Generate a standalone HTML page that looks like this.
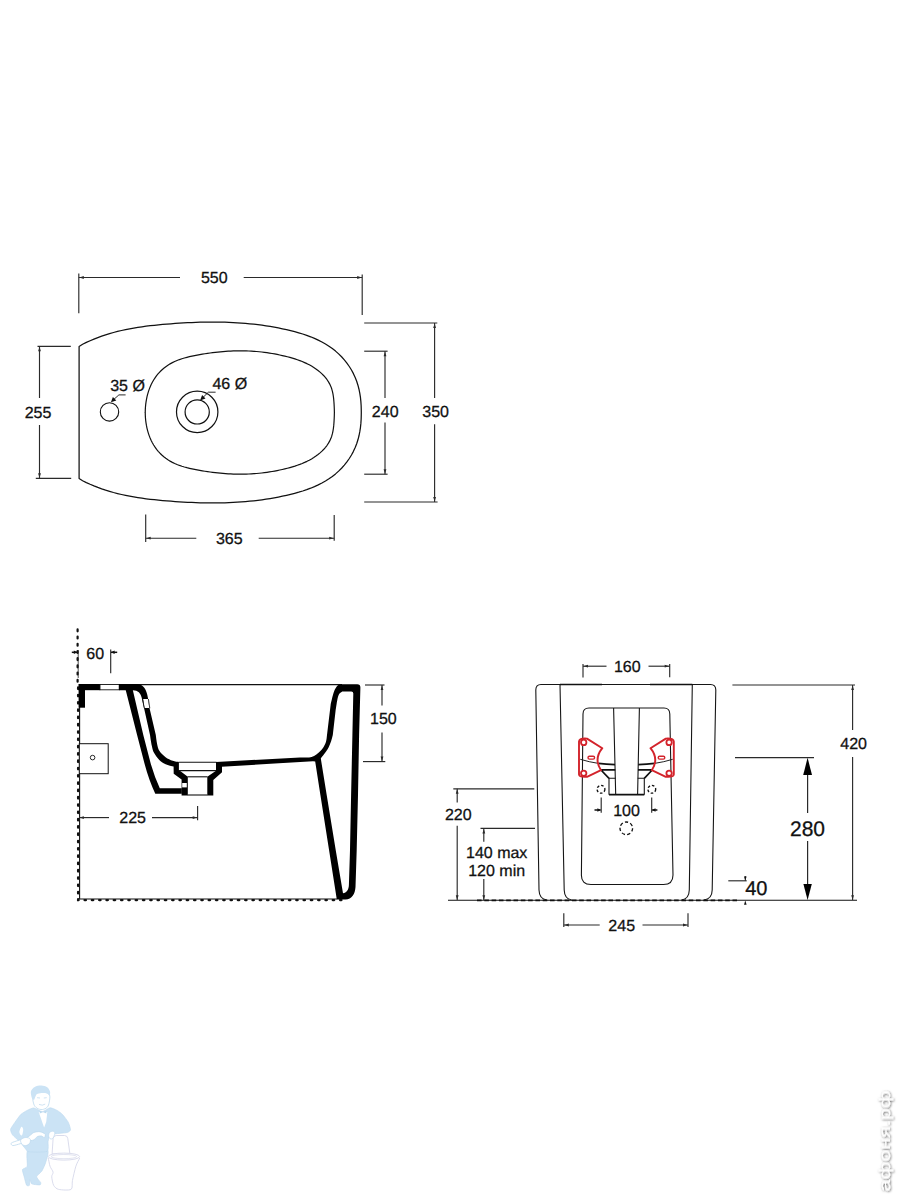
<!DOCTYPE html>
<html lang="ru"><head><meta charset="utf-8"><title>Bidet technical drawing</title>
<style>
html,body{margin:0;padding:0;background:#fff;}
body{width:900px;height:1200px;overflow:hidden;font-family:"Liberation Sans",Arial,Helvetica,sans-serif;}
svg{display:block;}
svg text{font-family:"Liberation Sans",Arial,Helvetica,sans-serif;fill:#111;stroke:#111;stroke-width:0.28px;text-rendering:geometricPrecision;}
</style></head><body>
<svg width="900" height="1200" viewBox="0 0 900 1200">
<defs><filter id="sh" x="-20%" y="-50%" width="140%" height="200%"><feDropShadow dx="-0.7" dy="0.7" stdDeviation="1.2" flood-color="#000" flood-opacity="0.75"/></filter></defs>
<rect width="900" height="1200" fill="#fff"/>
<path d="M79.10 346.50 L82.62 344.29 L86.36 342.43 L90.13 340.70 L93.95 339.07 L97.80 337.56 L101.69 336.14 L105.60 334.83 L109.55 333.62 L113.52 332.49 L117.52 331.46 L121.55 330.50 L125.60 329.62 L129.66 328.82 L133.75 328.08 L137.85 327.41 L141.96 326.79 L146.09 326.23 L150.22 325.72 L154.37 325.26 L158.52 324.84 L162.67 324.45 L166.83 324.09 L170.99 323.77 L175.14 323.46 L179.29 323.19 L183.45 322.93 L187.60 322.71 L191.75 322.52 L195.89 322.36 L200.04 322.23 L204.18 322.14 L208.32 322.08 L212.46 322.06 L216.60 322.07 L220.73 322.13 L224.86 322.23 L228.99 322.37 L233.12 322.56 L237.24 322.79 L241.37 323.07 L245.49 323.40 L249.60 323.77 L253.72 324.20 L257.83 324.69 L261.94 325.22 L266.04 325.82 L270.14 326.47 L274.24 327.18 L278.34 327.95 L282.43 328.78 L286.52 329.68 L290.60 330.64 L294.68 331.68 L298.72 332.80 L302.74 334.02 L306.70 335.34 L310.62 336.79 L314.46 338.36 L318.23 340.08 L321.91 341.94 L325.49 343.97 L328.97 346.16 L332.32 348.54 L335.55 351.11 L338.63 353.87 L341.56 356.79 L344.32 359.88 L346.90 363.12 L349.29 366.50 L351.48 370.02 L353.44 373.66 L355.18 377.41 L356.68 381.26 L357.94 385.20 L358.98 389.22 L359.81 393.30 L360.44 397.43 L360.88 401.60 L361.15 405.79 L361.26 409.98 L361.30 412.50 L361.26 415.02 L361.15 419.21 L360.88 423.40 L360.44 427.57 L359.81 431.70 L358.98 435.78 L357.94 439.80 L356.68 443.74 L355.18 447.59 L353.44 451.34 L351.48 454.98 L349.29 458.50 L346.90 461.88 L344.32 465.12 L341.56 468.21 L338.63 471.13 L335.55 473.89 L332.32 476.46 L328.97 478.84 L325.49 481.03 L321.91 483.06 L318.23 484.92 L314.46 486.64 L310.62 488.21 L306.70 489.66 L302.74 490.98 L298.72 492.20 L294.68 493.32 L290.60 494.36 L286.52 495.32 L282.43 496.22 L278.34 497.05 L274.24 497.82 L270.14 498.53 L266.04 499.18 L261.94 499.78 L257.83 500.31 L253.72 500.80 L249.60 501.23 L245.49 501.60 L241.37 501.93 L237.24 502.21 L233.12 502.44 L228.99 502.63 L224.86 502.77 L220.73 502.87 L216.60 502.93 L212.46 502.94 L208.32 502.92 L204.18 502.86 L200.04 502.77 L195.89 502.64 L191.75 502.48 L187.60 502.29 L183.45 502.07 L179.29 501.81 L175.14 501.54 L170.99 501.23 L166.83 500.91 L162.67 500.55 L158.52 500.16 L154.37 499.74 L150.22 499.28 L146.09 498.77 L141.96 498.21 L137.85 497.59 L133.75 496.92 L129.66 496.18 L125.60 495.38 L121.55 494.50 L117.52 493.54 L113.52 492.51 L109.55 491.38 L105.60 490.17 L101.69 488.86 L97.80 487.44 L93.95 485.93 L90.13 484.30 L86.36 482.57 L82.62 480.71 L79.10 478.50 Z" fill="none" stroke="#111" stroke-width="1.25" stroke-linejoin="round"/>
<path d="M145.00 412.50 L145.25 412.44 L145.30 409.87 L145.44 407.29 L145.68 404.70 L146.01 402.11 L146.44 399.53 L146.97 396.96 L147.60 394.41 L148.33 391.89 L149.17 389.40 L150.12 386.96 L151.18 384.58 L152.35 382.25 L153.64 379.99 L155.05 377.81 L156.58 375.72 L158.22 373.71 L159.97 371.80 L161.82 369.99 L163.77 368.29 L165.81 366.69 L167.92 365.21 L170.11 363.85 L172.36 362.62 L174.67 361.49 L177.04 360.48 L179.45 359.56 L181.90 358.73 L184.39 357.98 L186.91 357.30 L189.45 356.68 L192.02 356.11 L194.59 355.59 L197.17 355.09 L199.76 354.63 L202.34 354.18 L204.92 353.76 L207.50 353.37 L210.09 353.00 L212.67 352.66 L215.25 352.34 L217.83 352.05 L220.41 351.79 L223.00 351.56 L225.58 351.35 L228.16 351.18 L230.74 351.04 L233.33 350.93 L235.91 350.85 L238.49 350.81 L241.08 350.80 L243.66 350.83 L246.25 350.89 L248.83 350.98 L251.42 351.12 L254.01 351.29 L256.59 351.50 L259.18 351.74 L261.76 352.02 L264.34 352.33 L266.92 352.68 L269.49 353.07 L272.06 353.50 L274.62 353.95 L277.18 354.45 L279.74 354.98 L282.29 355.54 L284.83 356.14 L287.36 356.78 L289.88 357.45 L292.39 358.17 L294.89 358.93 L297.36 359.75 L299.81 360.62 L302.23 361.56 L304.62 362.58 L306.97 363.66 L309.28 364.84 L311.55 366.10 L313.77 367.45 L315.93 368.90 L318.03 370.46 L320.05 372.11 L321.98 373.87 L323.81 375.72 L325.51 377.67 L327.08 379.71 L328.49 381.85 L329.75 384.08 L330.82 386.41 L331.71 388.82 L332.41 391.32 L332.96 393.88 L333.38 396.48 L333.69 399.11 L333.92 401.75 L334.09 404.39 L334.22 407.00 L334.32 409.59 L334.37 412.17 L334.40 412.50 L334.37 412.83 L334.32 415.41 L334.22 418.00 L334.09 420.61 L333.92 423.25 L333.69 425.89 L333.38 428.52 L332.96 431.12 L332.41 433.68 L331.71 436.18 L330.82 438.59 L329.75 440.92 L328.49 443.15 L327.08 445.29 L325.51 447.33 L323.81 449.28 L321.98 451.13 L320.05 452.89 L318.03 454.54 L315.93 456.10 L313.77 457.55 L311.55 458.90 L309.28 460.16 L306.97 461.34 L304.62 462.42 L302.23 463.44 L299.81 464.38 L297.36 465.25 L294.89 466.07 L292.39 466.83 L289.88 467.55 L287.36 468.22 L284.83 468.86 L282.29 469.46 L279.74 470.02 L277.18 470.55 L274.62 471.05 L272.06 471.50 L269.49 471.93 L266.92 472.32 L264.34 472.67 L261.76 472.98 L259.18 473.26 L256.59 473.50 L254.01 473.71 L251.42 473.88 L248.83 474.02 L246.25 474.11 L243.66 474.17 L241.08 474.20 L238.49 474.19 L235.91 474.15 L233.33 474.07 L230.74 473.96 L228.16 473.82 L225.58 473.65 L223.00 473.44 L220.41 473.21 L217.83 472.95 L215.25 472.66 L212.67 472.34 L210.09 472.00 L207.50 471.63 L204.92 471.24 L202.34 470.82 L199.76 470.37 L197.17 469.91 L194.59 469.41 L192.02 468.89 L189.45 468.32 L186.91 467.70 L184.39 467.02 L181.90 466.27 L179.45 465.44 L177.04 464.52 L174.67 463.51 L172.36 462.38 L170.11 461.15 L167.92 459.79 L165.81 458.31 L163.77 456.71 L161.82 455.01 L159.97 453.20 L158.22 451.29 L156.58 449.28 L155.05 447.19 L153.64 445.01 L152.35 442.75 L151.18 440.42 L150.12 438.04 L149.17 435.60 L148.33 433.11 L147.60 430.59 L146.97 428.04 L146.44 425.47 L146.01 422.89 L145.68 420.30 L145.44 417.71 L145.30 415.13 L145.25 412.56 Z" fill="none" stroke="#111" stroke-width="1.2" stroke-linejoin="round"/>
<circle cx="109.5" cy="411.9" r="9.2" fill="none" stroke="#111" stroke-width="1.1"/>
<circle cx="197.2" cy="411.9" r="20.7" fill="none" stroke="#111" stroke-width="1.2"/>
<circle cx="197.2" cy="411.9" r="12.1" fill="none" stroke="#111" stroke-width="1.2"/>
<polyline points="125.6,394.9 118.9,394.9 112.5,400.6" fill="none" stroke="#2a2a2a" stroke-width="1"/>
<polygon points="110.9,402.2 112.9,396.9 116.3,400.4" fill="#111"/>
<polyline points="215.6,392.2 208.4,392.2 201.8,398.6" fill="none" stroke="#2a2a2a" stroke-width="1"/>
<polygon points="200.1,400.4 202.1,395.1 205.5,398.6" fill="#111"/>
<text x="110.20" y="391.20" font-size="16" text-anchor="start" >35 Ø</text>
<text x="212.40" y="388.60" font-size="16" text-anchor="start" >46 Ø</text>
<line x1="78.80" y1="273.50" x2="78.80" y2="313.30" stroke="#2a2a2a" stroke-width="1.15" />
<line x1="362.20" y1="274.50" x2="362.20" y2="315.00" stroke="#2a2a2a" stroke-width="1.15" />
<line x1="78.80" y1="277.50" x2="180.00" y2="277.50" stroke="#2a2a2a" stroke-width="1.15" />
<polygon points="79.30,277.50 83.80,276.10 83.80,278.90" fill="#2a2a2a"/>
<line x1="243.70" y1="277.50" x2="362.20" y2="277.50" stroke="#2a2a2a" stroke-width="1.15" />
<polygon points="361.70,277.50 357.20,276.10 357.20,278.90" fill="#2a2a2a"/>
<text x="214.30" y="283.20" font-size="16" text-anchor="middle" >550</text>
<line x1="364.20" y1="323.00" x2="437.30" y2="323.00" stroke="#2a2a2a" stroke-width="1.15" />
<line x1="364.20" y1="502.00" x2="437.60" y2="502.00" stroke="#2a2a2a" stroke-width="1.15" />
<line x1="434.60" y1="323.00" x2="434.60" y2="398.00" stroke="#2a2a2a" stroke-width="1.15" />
<line x1="434.60" y1="424.30" x2="434.60" y2="502.00" stroke="#2a2a2a" stroke-width="1.15" />
<polygon points="434.60,323.50 433.20,328.00 436.00,328.00" fill="#2a2a2a"/>
<polygon points="434.60,501.50 433.20,497.00 436.00,497.00" fill="#2a2a2a"/>
<text x="435.60" y="417.20" font-size="16" text-anchor="middle" >350</text>
<line x1="364.20" y1="351.20" x2="387.60" y2="351.20" stroke="#2a2a2a" stroke-width="1.15" />
<line x1="364.20" y1="474.20" x2="387.60" y2="474.20" stroke="#2a2a2a" stroke-width="1.15" />
<line x1="385.00" y1="351.20" x2="385.00" y2="398.00" stroke="#2a2a2a" stroke-width="1.15" />
<line x1="385.00" y1="422.50" x2="385.00" y2="474.20" stroke="#2a2a2a" stroke-width="1.15" />
<polygon points="385.00,351.70 383.60,356.20 386.40,356.20" fill="#2a2a2a"/>
<polygon points="385.00,473.70 383.60,469.20 386.40,469.20" fill="#2a2a2a"/>
<text x="385.20" y="417.20" font-size="16" text-anchor="middle" >240</text>
<line x1="37.50" y1="346.30" x2="70.80" y2="346.30" stroke="#2a2a2a" stroke-width="1.15" />
<line x1="35.80" y1="478.30" x2="71.20" y2="478.30" stroke="#2a2a2a" stroke-width="1.15" />
<line x1="39.50" y1="346.30" x2="39.50" y2="398.00" stroke="#2a2a2a" stroke-width="1.15" />
<line x1="39.50" y1="425.00" x2="39.50" y2="478.30" stroke="#2a2a2a" stroke-width="1.15" />
<polygon points="39.50,346.80 38.10,351.30 40.90,351.30" fill="#2a2a2a"/>
<polygon points="39.50,477.80 38.10,473.30 40.90,473.30" fill="#2a2a2a"/>
<text x="38.00" y="417.60" font-size="16" text-anchor="middle" >255</text>
<line x1="145.70" y1="514.50" x2="145.70" y2="542.00" stroke="#2a2a2a" stroke-width="1.15" />
<line x1="334.20" y1="515.00" x2="334.20" y2="540.80" stroke="#2a2a2a" stroke-width="1.15" />
<line x1="145.70" y1="538.20" x2="196.30" y2="538.20" stroke="#2a2a2a" stroke-width="1.15" />
<polygon points="146.20,538.20 150.70,536.80 150.70,539.60" fill="#2a2a2a"/>
<line x1="258.70" y1="538.20" x2="334.20" y2="538.20" stroke="#2a2a2a" stroke-width="1.15" />
<polygon points="333.70,538.20 329.20,536.80 329.20,539.60" fill="#2a2a2a"/>
<text x="229.30" y="543.70" font-size="16" text-anchor="middle" >365</text>
<path d="M77.6 629.4 V684" fill="none" stroke="#111" stroke-width="2.2" stroke-dasharray="1.9 5.3" stroke-linecap="round"/>
<line x1="78.20" y1="650.00" x2="78.20" y2="678.00" stroke="#222" stroke-width="0.8" />
<path d="M79.6 684 V899 H337" fill="none" stroke="#111" stroke-width="1.1"/>
<path d="M78.1 687.5 V900.1 H346" fill="none" stroke="#111" stroke-width="2.3" stroke-dasharray="1.5 5.8" stroke-linecap="round"/>
<line x1="136.00" y1="684.70" x2="342.00" y2="684.70" stroke="#111" stroke-width="1.2" />
<rect x="78.5" y="684" width="21.7" height="6.2" fill="#000"/>
<rect x="100" y="684.5" width="19.2" height="5.3" fill="#fff" stroke="#111" stroke-width="0.9"/>
<rect x="78.6" y="689" width="6.4" height="18.7" fill="#000"/>
<path d="M125.7 690 L137.1 735 L144.7 764.3 Q149 780.5 155.3 793.7 L181.8 793.7 L181.8 788.3 L159.8 788.3 Q154.6 777 150.9 764.3 L143.3 735 L132.8 690 Z" fill="#000"/>
<path d="M119 684 L137.2 684 C143.2 684 146.7 689.5 147.9 697.8 L149.2 706.7 L155.8 735 C156.02 736.48 156.48 741.23 157.10 743.90 C157.72 746.57 158.08 748.78 159.50 751.00 C160.92 753.22 163.40 755.57 165.60 757.20 C167.80 758.83 170.48 759.98 172.70 760.80 C174.92 761.62 177.87 761.88 178.90 762.10 L178.90 770.10 L187.80 776.80 L187.80 795.40 L181.60 795.40 L181.60 779.40 L173.70 773.70 L173.60 766.60 C172.27 766.22 167.98 765.42 165.60 764.30 C163.22 763.18 161.23 761.82 159.30 759.90 C157.37 757.98 155.25 755.17 154.00 752.80 C152.75 750.43 152.47 748.67 151.80 745.70 C151.13 742.73 150.30 736.78 150.00 735.00 L144.30 709.30 L141.70 697.80 C140.8 693 138 690.4 132.8 690.2 L119 690.2 Z" fill="#000"/>
<polygon points="143.1,699.1 148.1,699.1 149.4,708 144.5,708" fill="#fff"/>
<path d="M142.5 699 L144.3 708.2 M148.4 699 L149.8 708.2" stroke="#111" stroke-width="0.8" fill="none"/>
<rect x="182.2" y="783" width="4.6" height="4.4" fill="#fff"/>
<path d="M216 762 L216 770.7 L207.3 776.7 L207.3 795.4 L213.3 795.4 L213.3 780 L222 772.3 L222 764 Z" fill="#000"/>
<line x1="178.70" y1="762.20" x2="216.50" y2="762.20" stroke="#111" stroke-width="1.1" />
<line x1="178.70" y1="770.60" x2="216.00" y2="770.60" stroke="#111" stroke-width="1.1" />
<line x1="187.50" y1="776.80" x2="207.50" y2="776.80" stroke="#111" stroke-width="1.1" />
<line x1="187.50" y1="795.00" x2="207.50" y2="795.00" stroke="#111" stroke-width="1.1" />
<path d="M216 762 L300 757.4 C301.93 757.33 308.20 758.07 311.60 757.00 C315.00 755.93 318.07 753.33 320.40 751.00 C322.73 748.67 324.50 745.67 325.60 743.00 C326.70 740.33 326.77 736.33 327.00 735.00 L330.70 704.30 C331.13 702.53 332.48 696.37 333.30 693.70 C334.12 691.03 334.75 689.75 335.60 688.30 C336.45 686.85 337.33 685.67 338.40 685.00 C339.47 684.33 341.40 684.42 342.00 684.30 L357.2 684.3 Q360.4 684.3 360.4 687.5 L359.10 735.00 L358.00 795.00 L356.70 850.00 L355.50 887.00 C355 894 352 899.4 345.5 899.4 L336.8 899.4 L329.05 850.00 L320.40 795.00 L315.20 761.60 L313.00 761.20 L221.50 766.70 L216.00 766.70 Z M320.8 758.5 L321.3 757.7 C322.35 756.28 325.97 751.95 327.60 749.20 C329.23 746.45 330.23 743.57 331.10 741.20 C331.97 738.83 332.52 736.03 332.80 735.00 L335.60 710.60 C335.88 708.82 336.72 702.67 337.30 699.90 C337.88 697.13 338.28 695.42 339.10 694.00 C339.92 692.58 341.68 691.83 342.20 691.40 L351.3 691.4 Q353.3 691.4 353.3 693.4 L352.40 735.00 L351.10 795.00 L350.00 850.00 L348.90 885.00 C348.7 890 346.5 892.8 343 893.2 L335.70 850.00 L326.70 795.00 Z" fill="#000" fill-rule="evenodd"/>
<rect x="79.3" y="743.7" width="28.9" height="30" fill="#fff" stroke="#111" stroke-width="1"/>
<circle cx="92.6" cy="757.6" r="2.3" fill="none" stroke="#111" stroke-width="0.9"/>
<line x1="71.80" y1="652.30" x2="77.00" y2="652.30" stroke="#111" stroke-width="1.5" />
<polygon points="77.40,652.30 73.80,650.60 73.80,654.00" fill="#111"/>
<line x1="110.70" y1="649.60" x2="110.70" y2="673.30" stroke="#2a2a2a" stroke-width="1.15" />
<line x1="111.00" y1="652.30" x2="117.20" y2="652.30" stroke="#111" stroke-width="1.5" />
<polygon points="111.00,652.30 114.60,650.60 114.60,654.00" fill="#111"/>
<text x="95.20" y="659.20" font-size="16" text-anchor="middle" >60</text>
<line x1="79.00" y1="817.60" x2="109.00" y2="817.60" stroke="#2a2a2a" stroke-width="1.15" />
<polygon points="79.40,817.60 83.90,816.20 83.90,819.00" fill="#2a2a2a"/>
<line x1="152.00" y1="817.60" x2="197.60" y2="817.60" stroke="#2a2a2a" stroke-width="1.15" />
<polygon points="197.20,817.60 192.70,816.20 192.70,819.00" fill="#2a2a2a"/>
<line x1="197.60" y1="806.00" x2="197.60" y2="820.30" stroke="#2a2a2a" stroke-width="1.15" />
<text x="132.60" y="823.20" font-size="16" text-anchor="middle" >225</text>
<line x1="365.00" y1="685.00" x2="384.50" y2="685.00" stroke="#2a2a2a" stroke-width="1.15" />
<line x1="363.00" y1="761.60" x2="385.30" y2="761.60" stroke="#2a2a2a" stroke-width="1.15" />
<line x1="382.00" y1="685.00" x2="382.00" y2="705.50" stroke="#2a2a2a" stroke-width="1.15" />
<line x1="382.00" y1="732.50" x2="382.00" y2="761.60" stroke="#2a2a2a" stroke-width="1.15" />
<polygon points="382.00,685.50 380.60,690.00 383.40,690.00" fill="#2a2a2a"/>
<polygon points="382.00,761.10 380.60,756.60 383.40,756.60" fill="#2a2a2a"/>
<text x="383.40" y="724.40" font-size="16" text-anchor="middle" >150</text>
<path d="M546.7 900 Q539.3 899 539 890 L535.8 690 Q535.8 684.5 541 684.5 L710.5 684.5 Q715.8 684.5 715.8 690 L712.2 890 Q712 899 704 900" fill="none" stroke="#161616" stroke-width="1.1"/>
<path d="M571.7 900 Q564.5 899 564.2 890 L560 684.5" fill="none" stroke="#161616" stroke-width="1.1"/>
<path d="M681.7 900 Q689 899 689.3 890 L692.3 684.5" fill="none" stroke="#161616" stroke-width="1.1"/>
<line x1="560.00" y1="684.50" x2="602.00" y2="684.50" stroke="#111" stroke-width="1.6" />
<line x1="650.00" y1="684.50" x2="692.30" y2="684.50" stroke="#111" stroke-width="1.6" />
<path d="M583 714 Q583 708 589 708 L664 708 Q669.7 708 669.8 714 L673 875 Q673 884.5 663.5 884.5 L591 884.5 Q581.3 884.5 581.4 875 Z" fill="none" stroke="#161616" stroke-width="1.1"/>
<path d="M613.6 708 L615.7 794.7 M639.4 708 L637.6 794.7" fill="none" stroke="#161616" stroke-width="1.1"/>
<line x1="609.00" y1="794.70" x2="644.30" y2="794.70" stroke="#111" stroke-width="1.8" />
<path d="M615.6 778.3 H609 V794.7 M637.7 778.3 H644.3 V794.7" fill="none" stroke="#161616" stroke-width="1.1"/>
<path d="M580.3 759.3 Q589 762 598.5 763.4" fill="none" stroke="#222" stroke-width="1"/>
<path d="M598.5 763.4 Q606 764.4 615 764.6 M601 769.8 H615.3 M601 770 L609 778.3" fill="none" stroke="#111" stroke-width="1.7"/>
<path d="M672.7 759.3 Q664 762 654.5 763.4" fill="none" stroke="#222" stroke-width="1"/>
<path d="M654.5 763.4 Q647 764.4 638.2 764.6 M652.2 769.8 H638 M652.2 770 L644.3 778.3" fill="none" stroke="#111" stroke-width="1.7"/>
<circle cx="601" cy="789.3" r="3.9" fill="none" stroke="#111" stroke-width="1.35" stroke-dasharray="2.6 1.9"/>
<circle cx="651.8" cy="789.3" r="3.9" fill="none" stroke="#111" stroke-width="1.35" stroke-dasharray="2.6 1.9"/>
<circle cx="626.3" cy="828.3" r="6.3" fill="none" stroke="#111" stroke-width="1.35" stroke-dasharray="3.3 2.2"/>
<path d="M579.0 741.5 Q579.3 738 587.0 738.6 L602.3 748.2 Q593.5 759 601.0 770.2 L587.0 776.8 Q579.3 777.4 579.0 774.5 Z" fill="none" stroke="#d3232b" stroke-width="1.9" stroke-linejoin="round"/>
<circle cx="583.7" cy="742.4" r="2.7" fill="#fff" stroke="#d3232b" stroke-width="1.8"/>
<circle cx="583.7" cy="773.3" r="2.7" fill="#fff" stroke="#d3232b" stroke-width="1.8"/>
<rect x="588.0" y="756.2" width="6.6" height="2.9" rx="1.45" fill="#fff" stroke="#d3232b" stroke-width="1.4"/>
<path d="M673.8 741.5 Q673.5 738 665.8 738.6 L650.5 748.2 Q659.3 759 651.8 770.2 L665.8 776.8 Q673.5 777.4 673.8 774.5 Z" fill="none" stroke="#d3232b" stroke-width="1.9" stroke-linejoin="round"/>
<circle cx="669.1" cy="742.4" r="2.7" fill="#fff" stroke="#d3232b" stroke-width="1.8"/>
<circle cx="669.1" cy="773.3" r="2.7" fill="#fff" stroke="#d3232b" stroke-width="1.8"/>
<rect x="658.2" y="756.2" width="6.6" height="2.9" rx="1.45" fill="#fff" stroke="#d3232b" stroke-width="1.4"/>
<line x1="448.00" y1="900.30" x2="857.00" y2="900.30" stroke="#111" stroke-width="1.1" />
<path d="M477 900.4 H737" fill="none" stroke="#111" stroke-width="1.6" stroke-dasharray="4.6 2.7"/>
<line x1="583.00" y1="664.00" x2="583.00" y2="677.50" stroke="#2a2a2a" stroke-width="1.15" />
<line x1="669.70" y1="664.00" x2="669.70" y2="677.30" stroke="#2a2a2a" stroke-width="1.15" />
<line x1="583.00" y1="666.20" x2="606.50" y2="666.20" stroke="#2a2a2a" stroke-width="1.15" />
<polygon points="583.50,666.20 588.00,664.80 588.00,667.60" fill="#2a2a2a"/>
<line x1="648.50" y1="666.20" x2="669.70" y2="666.20" stroke="#2a2a2a" stroke-width="1.15" />
<polygon points="669.20,666.20 664.70,664.80 664.70,667.60" fill="#2a2a2a"/>
<text x="627.30" y="671.80" font-size="16" text-anchor="middle" >160</text>
<line x1="601.20" y1="797.50" x2="601.20" y2="812.80" stroke="#2a2a2a" stroke-width="1.15" />
<line x1="651.70" y1="797.50" x2="651.70" y2="812.80" stroke="#2a2a2a" stroke-width="1.15" />
<line x1="594.50" y1="810.00" x2="600.60" y2="810.00" stroke="#111" stroke-width="1.5" />
<polygon points="601.00,810.00 597.40,808.30 597.40,811.70" fill="#111"/>
<line x1="652.20" y1="810.00" x2="657.40" y2="810.00" stroke="#111" stroke-width="1.5" />
<polygon points="651.90,810.00 655.50,808.30 655.50,811.70" fill="#111"/>
<text x="626.50" y="815.90" font-size="16" text-anchor="middle" >100</text>
<line x1="563.80" y1="913.30" x2="563.80" y2="927.00" stroke="#2a2a2a" stroke-width="1.15" />
<line x1="688.00" y1="913.30" x2="688.00" y2="927.00" stroke="#2a2a2a" stroke-width="1.15" />
<line x1="563.80" y1="925.00" x2="599.70" y2="925.00" stroke="#2a2a2a" stroke-width="1.15" />
<polygon points="564.30,925.00 568.80,923.60 568.80,926.40" fill="#2a2a2a"/>
<line x1="642.50" y1="925.00" x2="688.00" y2="925.00" stroke="#2a2a2a" stroke-width="1.15" />
<polygon points="687.50,925.00 683.00,923.60 683.00,926.40" fill="#2a2a2a"/>
<text x="621.70" y="930.50" font-size="16" text-anchor="middle" >245</text>
<line x1="453.30" y1="788.80" x2="534.30" y2="788.80" stroke="#2a2a2a" stroke-width="1.15" />
<line x1="457.20" y1="788.80" x2="457.20" y2="802.50" stroke="#2a2a2a" stroke-width="1.15" />
<line x1="457.20" y1="825.80" x2="457.20" y2="900.00" stroke="#2a2a2a" stroke-width="1.15" />
<polygon points="457.20,789.30 455.80,793.80 458.60,793.80" fill="#2a2a2a"/>
<polygon points="457.20,899.70 455.80,895.20 458.60,895.20" fill="#2a2a2a"/>
<text x="458.30" y="819.60" font-size="16" text-anchor="middle" >220</text>
<line x1="480.50" y1="828.40" x2="535.00" y2="828.40" stroke="#2a2a2a" stroke-width="1.15" />
<line x1="483.80" y1="828.40" x2="483.80" y2="841.70" stroke="#2a2a2a" stroke-width="1.15" />
<line x1="483.80" y1="879.00" x2="483.80" y2="900.00" stroke="#2a2a2a" stroke-width="1.15" />
<polygon points="483.80,828.90 482.40,833.40 485.20,833.40" fill="#2a2a2a"/>
<polygon points="483.80,899.70 482.40,895.20 485.20,895.20" fill="#2a2a2a"/>
<text x="466.00" y="857.60" font-size="16" text-anchor="start" >140 max</text>
<text x="468.20" y="876.30" font-size="16" text-anchor="start" >120 min</text>
<line x1="732.40" y1="685.00" x2="855.00" y2="685.00" stroke="#2a2a2a" stroke-width="1.15" />
<line x1="852.60" y1="685.00" x2="852.60" y2="730.00" stroke="#2a2a2a" stroke-width="1.15" />
<line x1="852.60" y1="757.00" x2="852.60" y2="900.00" stroke="#2a2a2a" stroke-width="1.15" />
<polygon points="852.60,685.50 851.20,690.00 854.00,690.00" fill="#2a2a2a"/>
<polygon points="852.60,899.70 851.20,895.20 854.00,895.20" fill="#2a2a2a"/>
<text x="853.60" y="749.20" font-size="16" text-anchor="middle" >420</text>
<line x1="735.00" y1="757.60" x2="814.00" y2="757.60" stroke="#2a2a2a" stroke-width="1.15" />
<line x1="807.60" y1="770.00" x2="807.60" y2="813.00" stroke="#2a2a2a" stroke-width="1.2" />
<line x1="807.60" y1="841.00" x2="807.60" y2="888.00" stroke="#2a2a2a" stroke-width="1.2" />
<polygon points="807.6,757.8 803.2,775 812,775" fill="#000"/>
<polygon points="807.6,900 803.4,884 811.8,884" fill="#000"/>
<text x="807.50" y="835.90" font-size="21" text-anchor="middle" >280</text>
<line x1="728.30" y1="880.80" x2="746.70" y2="880.80" stroke="#2a2a2a" stroke-width="1.15" />
<line x1="745.30" y1="876.00" x2="745.30" y2="880.80" stroke="#2a2a2a" stroke-width="1" />
<polygon points="745.3,880.6 744,876.6 746.6,876.6" fill="#111"/>
<polygon points="745.3,900.6 744,904.8 746.6,904.8" fill="#111"/>
<text x="745.20" y="895.40" font-size="20" text-anchor="start" >40</text>
<g>
<path d="M52.1 1153.9 L53.1 1138.6 Q53.3 1135.7 56.2 1135.5 L64.6 1135.5 Q67.5 1135.7 67.8 1138.6 L69.9 1153.9 Z" fill="#fff" stroke="#d6d8ea" stroke-width="0.9"/>
<path d="M48.30 1158.07 C48.52 1159.15 49.38 1164.33 50.02 1166.21 C50.66 1168.08 52.85 1170.74 53.08 1172.15 C53.31 1173.55 51.67 1174.98 51.74 1176.74 C51.82 1178.51 52.74 1183.68 53.66 1185.36 C54.58 1187.05 56.32 1188.85 58.64 1189.39 C60.96 1189.92 69.25 1190.56 71.09 1189.39 C72.93 1188.21 71.79 1183.67 72.43 1180.57 C73.07 1177.48 74.91 1169.21 75.88 1166.21 C76.85 1163.21 79.20 1159.15 79.71 1158.07" fill="#fff" stroke="#d6d8ea" stroke-width="0.9"/>
<ellipse cx="63.9" cy="1156.6" rx="15.7" ry="3.5" fill="#fff" stroke="#d6d8ea" stroke-width="0.9"/>
<ellipse cx="63.9" cy="1156.6" rx="12.8" ry="2.1" fill="none" stroke="#d6d8ea" stroke-width="0.7"/>
<path d="M27.80 1150.40 C29.84 1148.82 45.83 1149.20 47.62 1150.40 C49.42 1151.60 46.28 1160.32 45.71 1162.38 C45.13 1164.43 42.79 1169.56 41.88 1171.00 C40.97 1172.43 36.73 1175.59 36.61 1176.74 C36.48 1177.89 40.30 1181.68 40.63 1182.49 C40.97 1183.30 40.84 1184.74 39.96 1184.89 C39.08 1185.03 32.81 1184.45 31.82 1183.93 C30.83 1183.40 30.34 1179.47 30.10 1179.62 C29.86 1179.76 29.78 1184.81 29.43 1185.36 C29.07 1185.92 27.08 1186.03 26.55 1185.17 C26.02 1184.31 24.57 1178.30 24.16 1176.74 C23.75 1175.18 22.13 1170.61 22.43 1169.56 C22.74 1168.51 26.69 1168.12 27.22 1166.21 C27.76 1164.29 25.76 1151.98 27.80 1150.40Z" fill="#cbe3f5" stroke="#bcd9ee" stroke-width="0.6"/>
<path d="M33.74 1107.97 C32.20 1107.85 28.32 1109.81 27.03 1110.46 C25.74 1111.11 22.00 1113.31 20.80 1114.48 C19.61 1115.65 16.08 1120.66 15.06 1122.15 C14.03 1123.63 10.80 1128.04 10.56 1129.33 C10.32 1130.62 11.78 1133.88 12.66 1135.08 C13.54 1136.27 18.07 1139.91 19.37 1141.30 C20.66 1142.69 24.64 1147.91 25.59 1148.97 C26.55 1150.02 26.79 1151.60 28.95 1151.84 C31.10 1152.08 45.23 1152.41 47.15 1151.36 C49.06 1150.31 47.82 1142.93 48.10 1141.30 C48.39 1139.67 49.35 1135.82 50.02 1135.08 C50.69 1134.33 53.08 1134.09 54.81 1133.83 C56.53 1133.57 65.69 1132.89 67.26 1132.49 C68.83 1132.09 70.42 1130.84 70.52 1129.81 C70.61 1128.77 69.02 1123.68 68.22 1122.15 C67.41 1120.61 63.57 1115.65 62.47 1114.48 C61.37 1113.31 58.45 1111.13 57.20 1110.46 C55.96 1109.79 51.50 1107.66 50.02 1107.78 C48.53 1107.89 43.98 1111.59 42.36 1111.61 C40.73 1111.63 35.27 1108.08 33.74 1107.97Z" fill="#cbe3f5" stroke="#bcd9ee" stroke-width="0.6"/>
<path d="M21.48 1126.74 C22.11 1126.34 23.15 1128.34 23.20 1129.81 C23.25 1131.28 22.40 1135.16 21.76 1135.56 C21.12 1135.95 19.42 1133.67 19.37 1132.20 C19.32 1130.73 20.84 1127.14 21.48 1126.74Z" fill="#fff"/>
<path d="M38.7 1112.1 L47.3 1112.1 L46.2 1122.1 L44.1 1127.4 Z" fill="#fff"/>
<path d="M39.7 1110.8 L46.4 1113.5 L46.4 1110.8 L39.7 1113.5 Z" fill="#bcd9ee"/>
<path d="M11.70 1142.74 C13.36 1141.79 24.46 1138.67 27.03 1137.47 C29.60 1136.28 32.23 1133.16 33.74 1132.49 C35.24 1131.82 38.62 1131.53 39.96 1131.72 C41.30 1131.91 44.70 1133.43 45.23 1134.12 C45.76 1134.81 44.91 1137.44 44.46 1137.66 C44.02 1137.89 42.20 1136.17 41.40 1136.03 C40.59 1135.90 38.46 1136.07 37.57 1136.51 C36.67 1136.96 34.85 1139.31 33.74 1139.87 C32.62 1140.42 29.55 1140.86 27.99 1141.30 C26.42 1141.75 22.09 1143.19 20.33 1143.70 C18.56 1144.20 13.86 1145.72 12.85 1145.61 C11.85 1145.50 10.05 1143.69 11.70 1142.74Z" fill="#fff" stroke="#bcd9ee" stroke-width="0.8"/>
<path d="M20.80 1139.87 C21.44 1138.78 24.05 1137.63 25.59 1137.47 C27.14 1137.31 29.41 1137.95 30.10 1138.91 C30.78 1139.87 30.46 1142.10 29.71 1143.22 C28.96 1144.34 26.92 1145.49 25.59 1145.61 C24.27 1145.74 22.56 1144.94 21.76 1143.98 C20.96 1143.03 20.17 1140.95 20.80 1139.87Z" fill="#fff" stroke="#bcd9ee" stroke-width="0.7"/>
<path d="M49.83 1132.20 C50.63 1131.48 52.54 1131.01 53.37 1131.25 C54.20 1131.48 54.92 1132.44 54.81 1133.64 C54.70 1134.84 53.50 1137.60 52.70 1138.43 C51.90 1139.26 50.71 1139.10 50.02 1138.62 C49.33 1138.14 48.61 1136.63 48.58 1135.56 C48.55 1134.49 49.03 1132.92 49.83 1132.20Z" fill="#fff" stroke="#bcd9ee" stroke-width="0.7"/>
<path d="M33.26 1095.33 C31.98 1097.32 33.10 1101.79 33.74 1103.95 C34.37 1106.10 35.65 1107.33 37.09 1108.26 C38.52 1109.18 40.68 1109.66 42.36 1109.50 C44.03 1109.34 46.00 1108.54 47.15 1107.30 C48.30 1106.05 48.90 1104.19 49.25 1102.03 C49.60 1099.88 50.56 1096.04 49.25 1094.37 C47.94 1092.69 44.06 1091.81 41.40 1091.97 C38.73 1092.13 34.53 1093.33 33.26 1095.33Z" fill="#fff" stroke="#bcd9ee" stroke-width="0.8"/>
<path d="M32.01 1098.20 C31.51 1096.98 30.46 1093.19 30.86 1091.49 C31.26 1089.80 33.11 1087.79 34.69 1086.90 C36.27 1086.01 39.53 1085.51 41.40 1085.56 C43.27 1085.60 45.85 1086.29 47.15 1087.18 C48.44 1088.07 49.66 1090.20 50.02 1091.49 C50.38 1092.79 49.97 1095.52 49.54 1095.80 C49.11 1096.09 48.37 1093.84 47.15 1093.41 C45.92 1092.98 42.98 1092.79 41.40 1092.93 C39.82 1093.07 37.69 1093.36 36.61 1094.37 C35.53 1095.37 34.90 1099.06 34.21 1099.64 C33.52 1100.21 32.51 1099.42 32.01 1098.20Z" fill="#cbe3f5"/>
<path d="M37.1 1097.7 L40.0 1098.0 M43.8 1098.0 L46.7 1097.7 M39.0 1104.4 Q42.4 1106.1 45.2 1104.1" fill="none" stroke="#bcd9ee" stroke-width="0.7"/>
</g>
<text transform="translate(890,1191.5) rotate(-90)" font-size="15.5" textLength="101" lengthAdjust="spacingAndGlyphs" style="fill:#fff;stroke:none" filter="url(#sh)">афоня.рф</text>
</svg>
</body></html>
